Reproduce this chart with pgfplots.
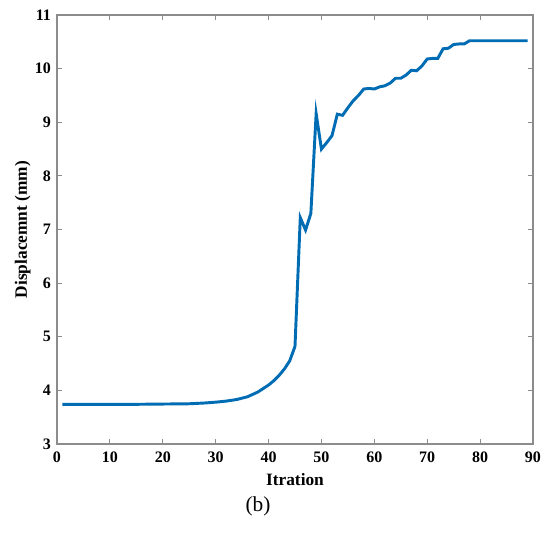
\documentclass[border=0pt]{standalone}
\usepackage{pgfplots}
\pgfplotsset{compat=1.18}
\usepackage{fontspec}
\setmainfont{Liberation Serif}
\definecolor{mblue}{RGB}{0,108,180}
\definecolor{axgray}{RGB}{140,140,140}

\begin{document}
\begin{tikzpicture}
\path[use as bounding box] (-42.75pt,-67.5pt) rectangle (369.75pt,333pt);
\begin{axis}[
  at={(0,0)}, anchor=south west,
  scale only axis, width=357pt, height=321.75pt,
  xmin=0, xmax=90, ymin=3, ymax=11,
  xtick={0,10,...,90}, ytick={3,4,...,11},
  tick align=inside, major tick length=3.5pt,
  axis line style={axgray, line width=1.1pt},
  tick style={axgray, line width=0.7pt},
  ticklabel style={font=\fontsize{12}{13}\selectfont\bfseries},
  xticklabel style={yshift=-2.5pt},
  yticklabel style={xshift=-1pt},
  /pgf/number format/assume math mode=true,
  xlabel={Itration}, ylabel={Displacemnt (mm)},
  label style={font=\fontsize{13}{15}\selectfont\bfseries},
  xlabel style={yshift=-1pt},
  ylabel style={yshift=-3.5pt},
]
\addplot[color=mblue, line width=2.2pt] coordinates {
(1,3.74)(5,3.74)(10,3.74)(15,3.74)(20,3.745)(25,3.75)(28,3.765)(30,3.78)
(32,3.80)(34,3.83)(36,3.88)(38,3.97)(40,4.10)(41,4.18)(42,4.28)(43,4.40)
(44,4.55)(45,4.82)(46,7.22)(47,6.99)(48,7.30)(49,9.16)(50,8.50)(51,8.62)
(52,8.75)(53,9.15)(54,9.13)(55,9.27)(56,9.40)(57,9.50)(58,9.62)(59,9.63)
(60,9.62)(61,9.66)(62,9.68)(63,9.73)(64,9.82)(65,9.82)(66,9.88)(67,9.97)
(68,9.96)(69,10.05)(70,10.18)(71,10.19)(72,10.19)(73,10.37)(74,10.38)
(75,10.45)(76,10.46)(77,10.46)(78,10.52)(79,10.52)(80,10.52)(85,10.52)(89,10.52)
};
\end{axis}
\node[font=\fontsize{16}{18}\selectfont] at (150.75pt,-46.5pt) {(b)};
\end{tikzpicture}
\end{document}
